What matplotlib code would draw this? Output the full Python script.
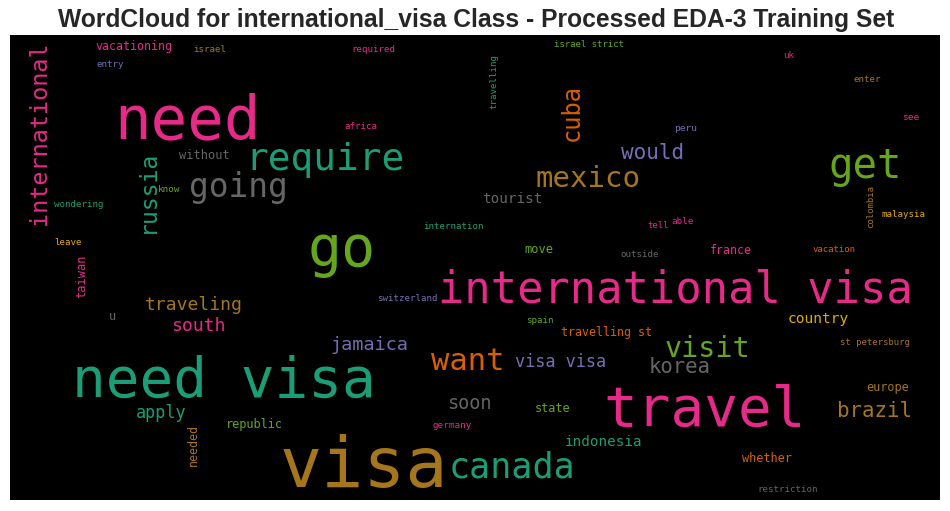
import matplotlib

matplotlib.use('Agg')
import matplotlib.pyplot as plt

# words of the cloud and their relative weight (1.0 = biggest word)
words = ["visa", "need", "go", "need visa", "travel", "international visa",
         "get", "require", "canada", "going", "want", "mexico", "visit",
         "international", "cuba", "russia", "would", "korea", "brazil",
         "soon", "jamaica", "south", "traveling", "visa visa", "apply",
         "country", "tourist", "indonesia", "u", "without", "taiwan",
         "move", "state", "republic", "europe", "whether", "vacationing",
         "france", "needed", "travelling st", "israel", "entry", "know",
         "wondering", "leave", "required", "israel strict", "travelling",
         "africa", "internation", "uk", "enter", "see", "peru", "colombia",
         "malaysia", "tell", "able", "outside", "vacation", "switzerland",
         "spain", "germany", "st petersburg", "restriction"]
weights = [1.0, 0.87, 0.81, 0.80, 0.80, 0.625,
           0.58, 0.54, 0.50, 0.47, 0.435, 0.415, 0.405,
           0.335, 0.34, 0.33, 0.30, 0.295, 0.297,
           0.265, 0.264, 0.26, 0.257, 0.241, 0.24,
           0.207, 0.204, 0.203, 0.17, 0.171, 0.171,
           0.171, 0.17, 0.169, 0.169, 0.169, 0.166,
           0.166, 0.166, 0.166, 0.131, 0.13, 0.133,
           0.13, 0.13, 0.131, 0.129, 0.131,
           0.131, 0.13, 0.13, 0.13, 0.135, 0.135, 0.129,
           0.131, 0.127, 0.133, 0.13, 0.129, 0.13,
           0.13, 0.133, 0.129, 0.13]

# placement in pixels: centre x, baseline y (baseline x, centre y if vertical), rotation
layout = [(364, 487, 0), (187, 138, 0), (342, 266, 0), (224, 397, 0), (705, 426, 0), (675, 302, 0),
          (865, 178, 0), (325, 170, 0), (512, 477, 0), (238, 197, 0), (468, 370, 0), (588, 187, 0), (707, 357, 0),
          (46, 133, 90), (579, 112, 90), (154, 191, 90), (653, 159, 0), (680, 373, 0), (874, 417, 0),
          (469, 409, 0), (369, 350, 0), (198, 331, 0), (194, 310, 0), (561, 367, 0), (161, 418, 0),
          (818, 323, 0), (512, 203, 0), (604, 446, 0), (112, 320, 0), (204, 159, 0), (85, 276, 90),
          (539, 253, 0), (553, 412, 0), (254, 428, 0), (888, 391, 0), (767, 462, 0), (134, 50, 0),
          (731, 254, 0), (197, 445, 90), (606, 336, 0), (210, 52, 0), (110, 67, 0), (169, 192, 0),
          (79, 207, 0), (68, 245, 0), (373, 52, 0), (589, 47, 0), (496, 81, 90),
          (361, 129, 0), (453, 229, 0), (789, 58, 0), (867, 82, 0), (911, 120, 0), (686, 131, 0), (873, 206, 90),
          (903, 217, 0), (658, 228, 0), (683, 224, 0), (640, 257, 0), (834, 252, 0), (407, 301, 0),
          (540, 323, 0), (452, 428, 0), (875, 345, 0), (788, 492, 0)]

teal, orange, purple, pink = '#1b9e77', '#d95f02', '#7570b3', '#e7298a'
green, yellow, brown, grey = '#66a61e', '#e6ab02', '#a6761d', '#666666'
colours = [brown, pink, green, teal, pink, pink,
           green, teal, teal, grey, orange, brown, green,
           pink, orange, teal, purple, grey, brown,
           grey, purple, pink, brown, purple, teal,
           yellow, grey, teal, grey, grey, pink,
           green, green, green, brown, orange, pink,
           pink, brown, orange, brown, purple, green,
           teal, yellow, pink, green, teal,
           pink, teal, pink, brown, pink, purple, brown,
           yellow, pink, pink, grey, orange, purple,
           green, pink, brown, grey]

W, H, DPI = 950, 511, 100
MAX_FONT_PX = 70

fig = plt.figure(figsize=(W / DPI, H / DPI), dpi=DPI)
# axes in figure pixel units, y pointing down like the picture
left, top, right, bottom = 10, 35, 940, 500
ax = fig.add_axes([left / W, (H - bottom) / H, (right - left) / W, (bottom - top) / H])
ax.set_xlim(left, right)
ax.set_ylim(bottom, top)
ax.set_facecolor('black')
ax.set_xticks([])
ax.set_yticks([])
for s in ax.spines.values():
    s.set_visible(False)

for w, wt, (x, y, rot), c in zip(words, weights, layout, colours):
    px = wt * MAX_FONT_PX
    ax.text(x, y, w, fontsize=px * 72 / DPI, color=c, family='DejaVu Sans Mono',
            rotation=rot, rotation_mode='anchor', ha='center', va='baseline')

fig.text(476 / W, 1 - 27 / H, "WordCloud for international_visa Class - Processed EDA-3 Training Set",
         ha='center', va='baseline', fontsize=17.7, fontweight='bold',
         family=['Liberation Sans', 'DejaVu Sans'], color='#262626')

fig.savefig('out.png', dpi=DPI)
